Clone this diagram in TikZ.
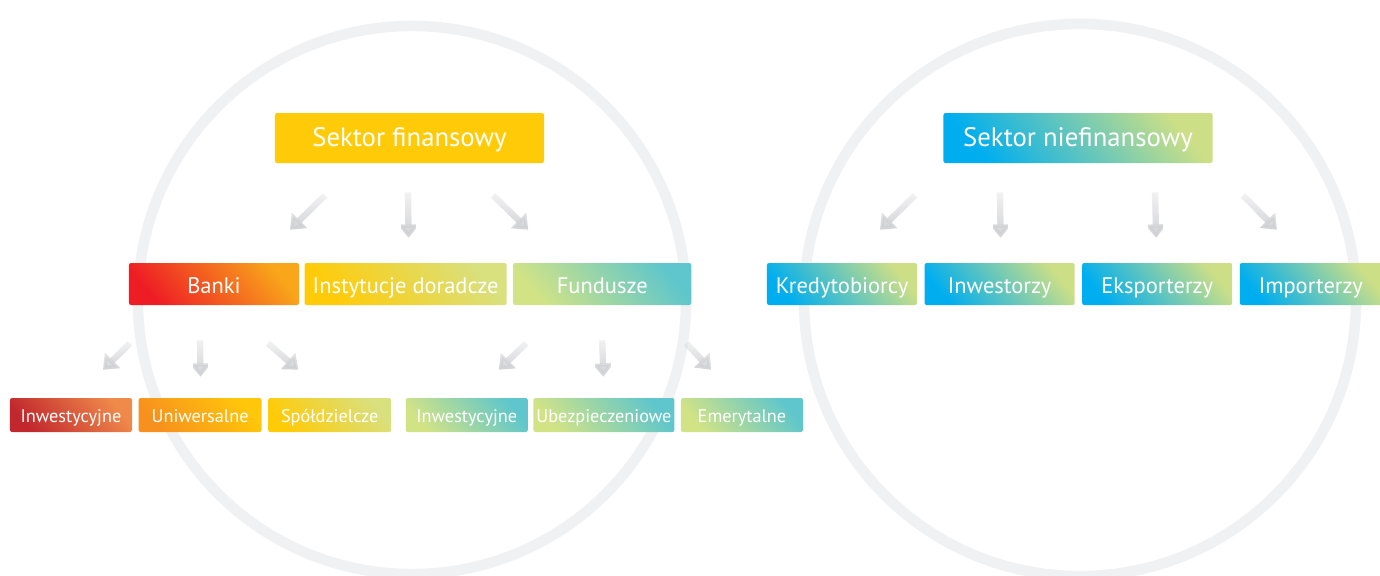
\documentclass[tikz,border=0pt]{standalone}
\usepackage{fontspec}
\setmainfont{PT Sans}
\usetikzlibrary{positioning,arrows.meta,fadings}

\definecolor{ringgray}{HTML}{F0F1F3}
\definecolor{arrgray}{HTML}{CFD0D3}
\definecolor{sunyel}{HTML}{FFCB08}
\definecolor{bankred}{HTML}{EE1C25}
\definecolor{bankorange}{HTML}{F9A61A}
\definecolor{olive}{HTML}{D9E07E}
\definecolor{lime}{HTML}{D2E386}
\definecolor{teal}{HTML}{5EC6CC}
\definecolor{sky}{HTML}{00AEEF}
\definecolor{mint}{HTML}{CCDF86}
\definecolor{darkred}{HTML}{C1272D}
\definecolor{salmon}{HTML}{F08A4B}
\definecolor{orange}{HTML}{F7901E}
\definecolor{amber}{HTML}{FFC70A}

\tikzfading[name=arrfade, top color=transparent!75, bottom color=transparent!0]

\tikzset{
  box/.style={inner sep=0pt, rounded corners=1.5pt, text=white, text depth=0pt},
  grad/.style 2 args={top color=#2, bottom color=#1, shading angle=-50},
  sector/.style={box, minimum width=6.725cm, minimum height=1.25cm, text height=12pt, font=\fontsize{19}{22}\selectfont},
  group/.style={box, minimum height=1.05cm, text height=14pt, font=\fontsize{16}{19}\selectfont},
  kind/.style={box, minimum height=0.85cm, text height=10.6pt, font=\fontsize{13}{15}\selectfont},
  arr/.style={draw=arrgray, line width=4.5pt, -{Triangle[width=15pt,length=9.5pt]}, path fading=arrfade},
  ring/.style={draw=ringgray, line width=7.5pt},
}

\begin{document}
\begin{tikzpicture}[x=0.025cm, y=-0.025cm]
  \useasboundingbox (0,0) rectangle (1380,575);

  % background rings
  \draw[ring] (412,300) circle (6.85cm);
  \draw[ring] (1080,300) circle (6.9cm);

  % financial sector
  \node[sector, grad={sunyel}{sunyel}] (sf) at (409.5,138) {Sektor finansowy};
  \node[group, minimum width=4.25cm, grad={bankred}{bankorange}] (banki) at (214,284) {Banki};
  \node[group, minimum width=5.05cm, grad={sunyel}{olive}, right=0.125cm of banki] (inst) {Instytucje doradcze};
  \node[group, minimum width=4.45cm, grad={lime}{teal}, right=0.15cm of inst] (fund) {Fundusze};

  \node[kind, minimum width=3.05cm, grad={darkred}{salmon}] (inw1) at (71,415) {Inwestycyjne};
  \node[kind, minimum width=3.075cm, grad={orange}{amber}, right=0.15cm of inw1] (uni) {Uniwersalne};
  \node[kind, minimum width=3.075cm, grad={sunyel}{olive}, right=0.15cm of uni] (spol) {Spółdzielcze};
  \node[kind, minimum width=3.05cm, grad={lime}{teal}, right=0.35cm of spol] (inw2) {Inwestycyjne};
  \node[kind, minimum width=3.525cm, grad={lime}{teal}, right=0.125cm of inw2] (ubez) {Ubezpieczeniowe};
  \node[kind, minimum width=3.05cm, grad={lime}{teal}, right=0.15cm of ubez] (emer) {Emerytalne};

  % non-financial sector
  \node[sector, grad={sky}{mint}] (sn) at (1078,138) {Sektor niefinansowy};
  \node[group, minimum width=3.75cm, grad={sky}{mint}] (kred) at (842,284) {Kredytobiorcy};
  \node[group, minimum width=3.75cm, grad={sky}{mint}, right=0.175cm of kred] (inw) {Inwestorzy};
  \node[group, minimum width=3.75cm, grad={sky}{mint}, right=0.175cm of inw] (eksp) {Eksporterzy};
  \node[group, minimum width=3.55cm, grad={sky}{mint}, right=0.175cm of eksp] (imp) {Importerzy};

  % arrows
  \draw[arr] ([shift={(-84.5,32)}]sf.south) -- ([shift={(76,-33)}]banki.north);
  \draw[arr] ([shift={(-1.5,29)}]sf.south) -- ([shift={(3,-25)}]inst.north);
  \draw[arr] ([shift={(83.5,32)}]sf.south) -- ([shift={(-74,-33)}]fund.north);

  \draw[arr] ([shift={(-84,38)}]banki.south) -- ([shift={(32,-28)}]inw1.north);
  \draw[arr] ([shift={(-14,35)}]banki.south) -- ([shift={(0.5,-21)}]uni.north);
  \draw[arr] ([shift={(54,38)}]banki.south) -- ([shift={(-31.5,-28)}]spol.north);

  \draw[arr] ([shift={(-76,38)}]fund.south) -- ([shift={(32,-28)}]inw2.north);
  \draw[arr] ([shift={(0,35)}]fund.south) -- ([shift={(-0.5,-21)}]ubez.north);
  \draw[arr] ([shift={(84,38)}]fund.south) -- ([shift={(-31,-28)}]emer.north);

  \draw[arr] ([shift={(-163,32)}]sn.south) -- ([shift={(38,-33)}]kred.north);
  \draw[arr] ([shift={(-78,29)}]sn.south) -- ([shift={(1,-25)}]inw.north);
  \draw[arr] ([shift={(77,29)}]sn.south) -- ([shift={(-1,-25)}]eksp.north);
  \draw[arr] ([shift={(165,32)}]sn.south) -- ([shift={(-34,-33)}]imp.north);
\end{tikzpicture}
\end{document}
